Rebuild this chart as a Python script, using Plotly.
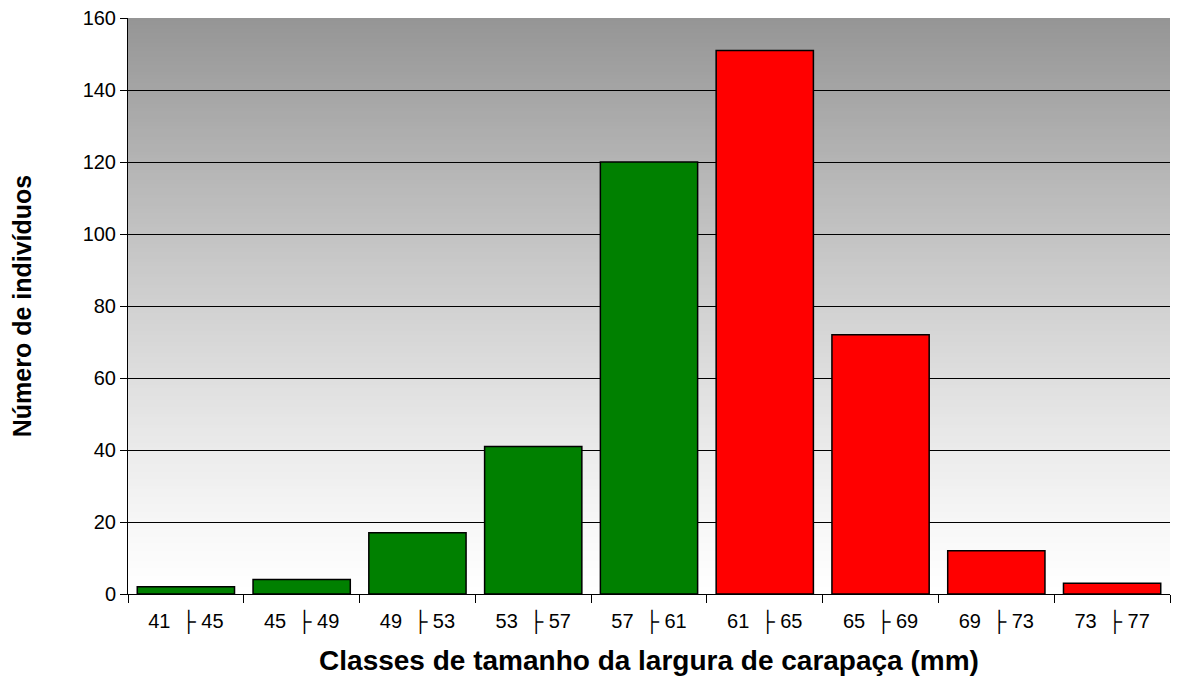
import plotly.graph_objects as go

NB = "\u00a0"
categories = ["41 ├ 45", "45 ├ 49", "49 ├ 53", "53 ├ 57", "57 ├ 61",
              "61 ├ 65", "65 ├ 69", "69 ├ 73", "73 ├ 77"]
values = [2, 4, 17, 41, 120, 151, 72, 12, 3]
bar_colors = ["#008000"] * 5 + ["#FF0000"] * 4
y_ticks = [0, 20, 40, 60, 80, 100, 120, 140, 160]

tick_text = [c.replace(" ├ ", NB * 2 + "├" + NB) for c in categories]

fig = go.Figure()
fig.add_trace(go.Bar(
    x=categories, y=values,
    marker=dict(color=bar_colors, line=dict(color="#000000", width=1.5)),
    hoverinfo="x+y",
))

# gradient background via stacked, slightly overlapping strips
shapes = []
n = 160
top_v = 149
for i in range(n):
    t = (i + 0.5) / n  # 0 bottom -> 1 top
    v = round(255 - (255 - top_v) * t ** 1.2)
    shapes.append(dict(type="rect", xref="x domain", yref="y domain",
                       x0=0, x1=1, y0=i / n, y1=min(1, (i + 1.6) / n),
                       fillcolor=f"rgb({v},{v},{v})",
                       line=dict(width=0), layer="below"))

fig.update_layout(
    width=1164, height=668,
    margin=dict(l=120, r=2, t=10, b=82),
    paper_bgcolor="white", plot_bgcolor="white",
    shapes=shapes,
    bargap=0.16,
    showlegend=False,
    font=dict(family="Liberation Sans, Arial, sans-serif", color="#000000"),
    xaxis=dict(
        type="category",
        tickvals=categories, ticktext=tick_text,
        showline=True, linecolor="#000000", linewidth=1,
        ticks="outside", ticklen=8, tickcolor="#000000", tickson="boundaries",
        tickfont=dict(size=20),
        ticklabelstandoff=9,
        automargin=False,
        title=dict(text="<b>Classes de tamanho da largura de carapaça (mm)</b>",
                   font=dict(size=28), standoff=29),
        showgrid=False,
    ),
    yaxis=dict(
        range=[0, 160], tickvals=y_ticks,
        showline=True, linecolor="#000000", linewidth=1,
        ticks="outside", ticklen=7, tickcolor="#000000",
        tickfont=dict(size=20),
        ticklabeloverflow="allow",
        automargin=False,
        showgrid=True, gridcolor="#000000", gridwidth=1,
        zeroline=False,
        title=dict(text="<b>Número de indivíduos</b>", font=dict(size=25), standoff=45),
    ),
)

fig.write_html("out.html")
